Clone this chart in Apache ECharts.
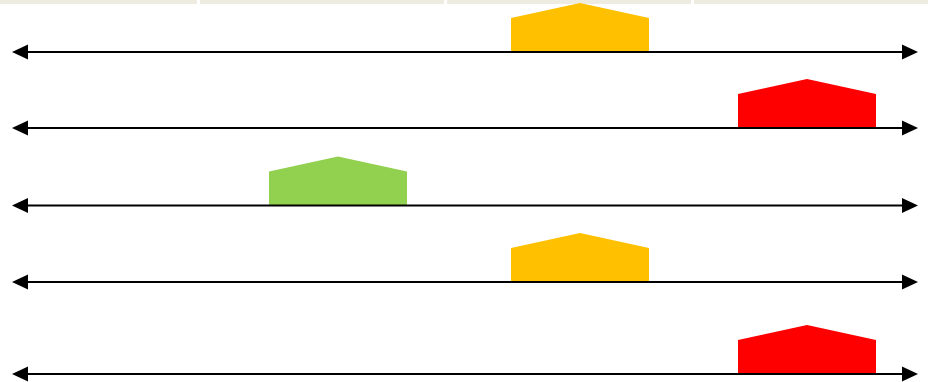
<!DOCTYPE html>
<html>
<head>
<meta charset="utf-8">
<script src="https://cdn.jsdelivr.net/npm/echarts@6/dist/echarts.min.js"></script>
<style>
    html, body { margin: 0; padding: 0; background: #fff; }
    #chart { width: 928px; height: 382px; }
</style>
</head>
<body>
<div id="chart"></div>
<script>
// header cells (left / right edge along the scale)
const headerStarts = [0, 200, 447, 694];
const headerEnds = [197, 444, 691, 928];

// one row per scale line
const rowLineY = [52, 128, 205.5, 282, 374];
const markerCenter = [580, 807, 338, 580, 807];
const markerLevel = ['amber', 'red', 'green', 'amber', 'red'];

const scaleStart = 12;
const scaleEnd = 918;

const levelColors = {
    green: '#92D050',
    amber: '#FFC000',
    red: '#FF0000',
};

const el = document.getElementById('chart');
const myChart = echarts.init(el);

const headerData = headerStarts.map((s, i) => [s, headerEnds[i]]);
const lineData = rowLineY.map(y => [scaleStart, scaleEnd, y]);
const markerData = rowLineY.map((y, i) => ({
    value: [markerCenter[i], y],
    itemStyle: { color: levelColors[markerLevel[i]] },
}));

const option = {
    backgroundColor: '#fff',
    animation: false,
    grid: {
        top: 0,
        bottom: 0,
        left: 0,
        right: 0,
    },
    xAxis: {
        type: 'value',
        min: 0,
        max: 928,
        show: false,
    },
    yAxis: {
        type: 'value',
        min: 0,
        max: 382,
        inverse: true,
        show: false,
    },
    series: [
        {
            name: 'header',
            type: 'custom',
            data: headerData,
            renderItem: (params, api) => {
                const p0 = api.coord([api.value(0), 0]);
                const p1 = api.coord([api.value(1), 4]);
                return {
                    type: 'rect',
                    shape: { x: p0[0], y: p0[1], width: p1[0] - p0[0], height: p1[1] - p0[1] },
                    style: { fill: '#EEECE1' },
                };
            },
        },
        {
            name: 'markers',
            type: 'custom',
            data: markerData,
            renderItem: (params, api) => {
                const c = api.coord([api.value(0), api.value(1)]);
                const half = 69;
                const points = [
                    [c[0] - half, c[1]],
                    [c[0] - half, c[1] - 34],
                    [c[0], c[1] - 49],
                    [c[0] + half, c[1] - 34],
                    [c[0] + half, c[1]],
                ];
                return {
                    type: 'polygon',
                    shape: { points },
                    style: { fill: api.visual('color') },
                };
            },
        },
        {
            name: 'scales',
            type: 'custom',
            data: lineData,
            z: 3,
            renderItem: (params, api) => {
                const a = api.coord([api.value(0), api.value(2)]);
                const b = api.coord([api.value(1), api.value(2)]);
                const y = a[1];
                return {
                    type: 'group',
                    children: [
                        {
                            type: 'line',
                            shape: { x1: a[0] + 10, y1: y, x2: b[0] - 10, y2: y },
                            style: { stroke: '#000', lineWidth: 2 },
                        },
                        {
                            type: 'polygon',
                            shape: { points: [[a[0], y], [a[0] + 16, y - 7.5], [a[0] + 16, y + 7.5]] },
                            style: { fill: '#000' },
                        },
                        {
                            type: 'polygon',
                            shape: { points: [[b[0], y], [b[0] - 16, y - 7.5], [b[0] - 16, y + 7.5]] },
                            style: { fill: '#000' },
                        },
                    ],
                };
            },
        },
    ],
};
myChart.setOption(option);
window.addEventListener('resize', () => {
    myChart.resize();
});
</script>
</body>
</html>
